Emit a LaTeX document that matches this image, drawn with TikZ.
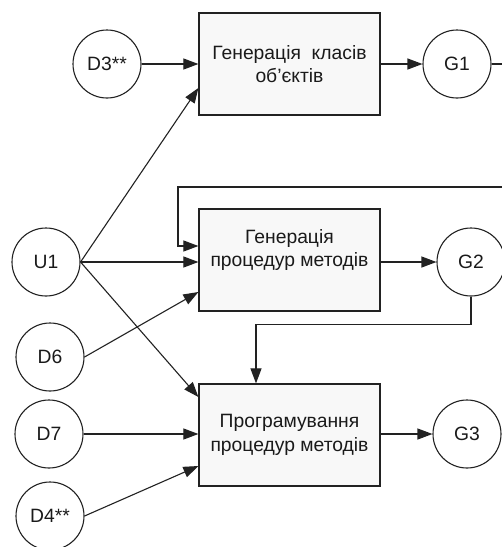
\documentclass[tikz,border=0pt]{standalone}
\usepackage{fontspec}
\setmainfont{Liberation Sans}
\usetikzlibrary{arrows.meta,calc}
\definecolor{linec}{HTML}{222222}
\definecolor{boxfill}{HTML}{F8F8F8}
\definecolor{txt}{HTML}{1A1A1A}
\begin{document}
\begin{tikzpicture}[x=1pt,y=-1pt,
  proc/.style={draw=linec, line width=1.2pt, fill=boxfill, minimum width=181pt, minimum height=102pt, inner sep=0pt, align=center, font=\fontsize{19.3}{23.3}\selectfont, text=txt},
  circ/.style={circle, draw=linec, line width=1.1pt, minimum size=68pt, inner sep=0pt, font=\fontsize{19.3}{22}\selectfont, text=txt},
  arr/.style={draw=linec, line width=1.1pt, -{Triangle[length=15pt,width=11pt]}},
  ln/.style={draw=linec, line width=1.1pt}]
\useasboundingbox (0,0) rectangle (502,547);
\fill[white] (0,0) rectangle (502,547);
% process boxes
\node[proc] (b1) at (289.5,64) {Генерація~ класів\\об'єктів};
\node[proc] (b2) at (289.5,260) {Генерація\\процедур методів\\~};
\node[proc] (b3) at (289.5,435) {Програмування\\процедур методів};
% circles
\node[circ] (D3) at (107,64) {D3**};
\node[circ] (G1) at (457,64) {G1};
\node[circ] (U1) at (46,262) {U1};
\node[circ] (G2) at (471,262) {G2};
\node[circ] (D6) at (50,357) {D6};
\node[circ] (D7) at (49,434) {D7};
\node[circ] (G3) at (467,434) {G3};
\node[circ] (D4) at (50,516) {D4**};
% free ends
\coordinate (e1) at (502,64);
\coordinate (e2) at (502,187);
% connectors
\draw[arr] (D3.east) -- (D3.east -| b1.west);
\draw[arr] (b1.east |- G1.west) -- (G1.west);
\draw[ln] (G1.east) -- (e1);
\draw[arr] (U1.east) -- ($(b1.west)+(0,24)$);
\draw[arr] (U1.east) -- (U1.east -| b2.west);
\draw[arr] (e2) -- ++(-324,0) |- ($(b2.west)+(0,-14)$);
\draw[arr] (D6.east) -- ($(b2.west)+(0,32)$);
\draw[arr] (b2.east |- G2.west) -- (G2.west);
\draw[arr] (G2.south) |- ($(b3.north)+(-33.5,-59)$) -- ($(b3.north)+(-33.5,0)$);
\draw[arr] (U1.east) -- ($(b3.west)+(0,-38)$);
\draw[arr] (D7.east) -- (D7.east -| b3.west);
\draw[arr] (b3.east |- G3.west) -- (G3.west);
\draw[arr] (D4.east) -- ($(b3.west)+(0,31)$);
\end{tikzpicture}
\end{document}
